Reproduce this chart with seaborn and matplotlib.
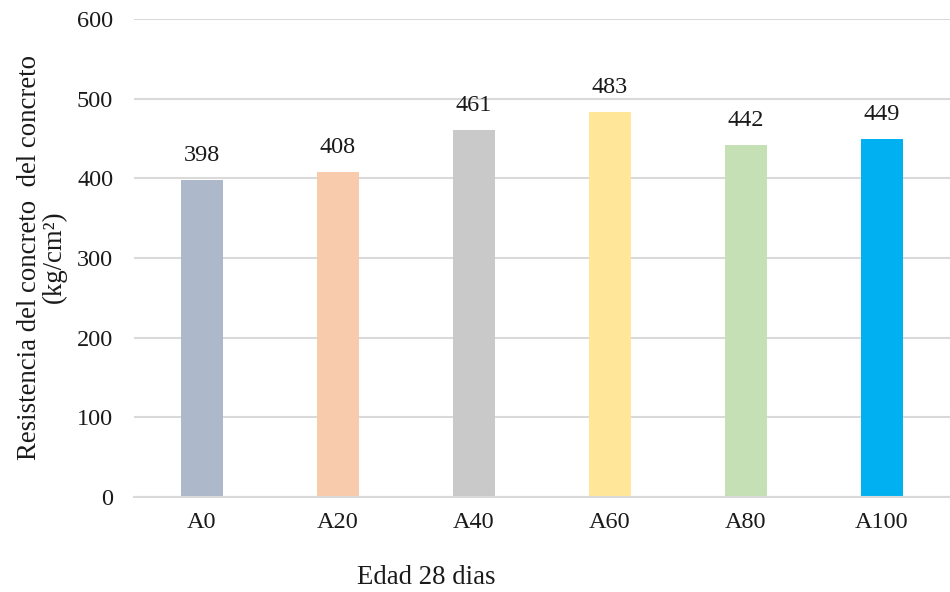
import numpy as np
import pandas as pd
import seaborn as sns
import matplotlib.pyplot as plt

muestras = ['A0', 'A20', 'A40', 'A60', 'A80', 'A100']
resistencia = [398, 408, 461, 483, 442, 449]
colores = ['#ADB9CA', '#F8CBAD', '#C9C9C9', '#FFE699', '#C5E0B4', '#00B0F0']

df = pd.DataFrame({'muestra': muestras, 'resistencia': resistencia})

sns.set_style('white')
plt.rcParams['font.family'] = ['Liberation Serif', 'DejaVu Serif']
fs = 17.5

fig = plt.figure(figsize=(9.5, 5.92), dpi=100)
ax = fig.add_axes([134 / 950, 95 / 592, 816 / 950, 478 / 592])

sns.barplot(data=df, x='muestra', y='resistencia', hue='muestra',
            palette=colores, width=0.315, legend=False, ax=ax, saturation=1,
            linewidth=0)

for cont in ax.containers:
    ax.bar_label(cont, padding=10, fontsize=fs, color='#1a1a1a')

ax.set_ylim(0, 600)
ax.set_xlim(-0.5, 5.5)
ax.set_yticks(range(0, 601, 100))
ax.yaxis.grid(True, color='#D9D9D9', linewidth=1.5)
ax.set_axisbelow(True)
for s in ['top', 'right', 'left']:
    ax.spines[s].set_visible(False)
ax.spines['bottom'].set_color('#D9D9D9')
ax.spines['bottom'].set_linewidth(1.5)
ax.tick_params(axis='y', length=0, pad=15, labelsize=fs, labelcolor='#1a1a1a')
ax.tick_params(axis='x', length=0, pad=11, labelsize=fs, labelcolor='#1a1a1a')
ax.set_xlabel('')
ax.set_ylabel('')

fig.text(426 / 950, 1 - 577 / 592, 'Edad 28 dias', ha='center', va='center',
         fontsize=19.3, color='#1a1a1a')
fig.text(42 / 950, 1 - 257 / 592,
         'Resistencia del concreto  del concreto\n(kg/cm²)',
         rotation=90, ha='center', va='center', multialignment='center',
         fontsize=19.3, color='#1a1a1a', linespacing=0.98)

fig.savefig('out.png', dpi=100)
